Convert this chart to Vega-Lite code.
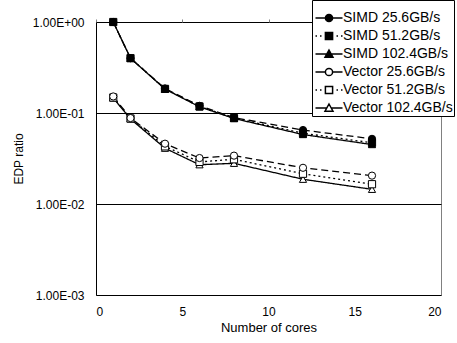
{
  "$schema": "https://vega.github.io/schema/vega-lite/v6.json",
  "width": 345,
  "height": 273,
  "autosize": "none",
  "padding": {"left": 96, "top": 22, "right": 16, "bottom": 48},
  "background": "white",
  "config": {
    "font": "Liberation Sans",
    "view": {"stroke": "#808080", "strokeWidth": 1},
    "axis": {"labelColor": "black", "titleColor": "black", "titleFontWeight": "normal"}
  },
  "data": {
    "values": [
      {"series": "SIMD 102.4GB/s", "cores": 1, "edp": 1.0},
      {"series": "SIMD 102.4GB/s", "cores": 2, "edp": 0.40},
      {"series": "SIMD 102.4GB/s", "cores": 4, "edp": 0.183},
      {"series": "SIMD 102.4GB/s", "cores": 6, "edp": 0.117},
      {"series": "SIMD 102.4GB/s", "cores": 8, "edp": 0.087},
      {"series": "SIMD 102.4GB/s", "cores": 12, "edp": 0.058},
      {"series": "SIMD 102.4GB/s", "cores": 16, "edp": 0.045},
      {"series": "SIMD 25.6GB/s", "cores": 1, "edp": 1.0},
      {"series": "SIMD 25.6GB/s", "cores": 2, "edp": 0.40},
      {"series": "SIMD 25.6GB/s", "cores": 4, "edp": 0.186},
      {"series": "SIMD 25.6GB/s", "cores": 6, "edp": 0.120},
      {"series": "SIMD 25.6GB/s", "cores": 8, "edp": 0.089},
      {"series": "SIMD 25.6GB/s", "cores": 12, "edp": 0.065},
      {"series": "SIMD 25.6GB/s", "cores": 16, "edp": 0.052},
      {"series": "SIMD 51.2GB/s", "cores": 1, "edp": 1.0},
      {"series": "SIMD 51.2GB/s", "cores": 2, "edp": 0.40},
      {"series": "SIMD 51.2GB/s", "cores": 4, "edp": 0.184},
      {"series": "SIMD 51.2GB/s", "cores": 6, "edp": 0.118},
      {"series": "SIMD 51.2GB/s", "cores": 8, "edp": 0.088},
      {"series": "SIMD 51.2GB/s", "cores": 12, "edp": 0.060},
      {"series": "SIMD 51.2GB/s", "cores": 16, "edp": 0.047},
      {"series": "Vector 102.4GB/s", "cores": 1, "edp": 0.146},
      {"series": "Vector 102.4GB/s", "cores": 2, "edp": 0.086},
      {"series": "Vector 102.4GB/s", "cores": 4, "edp": 0.041},
      {"series": "Vector 102.4GB/s", "cores": 6, "edp": 0.027},
      {"series": "Vector 102.4GB/s", "cores": 8, "edp": 0.028},
      {"series": "Vector 102.4GB/s", "cores": 12, "edp": 0.0187},
      {"series": "Vector 102.4GB/s", "cores": 16, "edp": 0.0145},
      {"series": "Vector 51.2GB/s", "cores": 1, "edp": 0.148},
      {"series": "Vector 51.2GB/s", "cores": 2, "edp": 0.087},
      {"series": "Vector 51.2GB/s", "cores": 4, "edp": 0.043},
      {"series": "Vector 51.2GB/s", "cores": 6, "edp": 0.029},
      {"series": "Vector 51.2GB/s", "cores": 8, "edp": 0.031},
      {"series": "Vector 51.2GB/s", "cores": 12, "edp": 0.0215},
      {"series": "Vector 51.2GB/s", "cores": 16, "edp": 0.0165},
      {"series": "Vector 25.6GB/s", "cores": 1, "edp": 0.152},
      {"series": "Vector 25.6GB/s", "cores": 2, "edp": 0.088},
      {"series": "Vector 25.6GB/s", "cores": 4, "edp": 0.046},
      {"series": "Vector 25.6GB/s", "cores": 6, "edp": 0.032},
      {"series": "Vector 25.6GB/s", "cores": 8, "edp": 0.034},
      {"series": "Vector 25.6GB/s", "cores": 12, "edp": 0.025},
      {"series": "Vector 25.6GB/s", "cores": 16, "edp": 0.0205}
    ]
  },
  "resolve": {
    "axis": {"x": "independent"},
    "scale": {"shape": "independent", "fill": "independent"},
    "legend": {"shape": "independent", "fill": "independent"}
  },
  "layer": [
    {
      "mark": {"type": "line", "color": "black", "strokeWidth": 1.3},
      "encoding": {
        "x": {
          "field": "cores", "type": "quantitative",
          "scale": {"domain": [0, 20], "nice": false},
          "axis": {"orient": "bottom", "values": [0, 5, 10, 15, 20], "ticks": false, "domain": false, "grid": false,
                   "labelFontSize": 12, "labelPadding": 11, "title": "Number of cores", "titleFontSize": 13, "titlePadding": 4}
        },
        "y": {
          "field": "edp", "type": "quantitative",
          "scale": {"type": "log", "domain": [0.001, 1], "nice": false},
          "axis": {"values": [1, 0.1, 0.01, 0.001], "ticks": false, "domainColor": "black", "grid": true,
                   "gridColor": "black", "gridOpacity": 1, "gridWidth": 1,
                   "labelFontSize": 12, "labelPadding": 12,
                   "labelExpr": "'1.00E' + (datum.value >= 1 ? '+00' : '-0' + round(-log(datum.value) / LN10))",
                   "title": "EDP ratio", "titleFontSize": 12, "titlePadding": 7}
        },
        "detail": {"field": "series"},
        "strokeDash": {
          "field": "series", "type": "nominal", "legend": null,
          "scale": {
            "domain": ["SIMD 25.6GB/s", "SIMD 51.2GB/s", "SIMD 102.4GB/s", "Vector 25.6GB/s", "Vector 51.2GB/s", "Vector 102.4GB/s"],
            "range": [[7, 4], [2, 3], [1, 0], [7, 4], [2, 3], [1, 0]]
          }
        }
      }
    },
    {
      "mark": {"type": "point", "filled": true, "stroke": "black", "strokeWidth": 1, "size": 52, "opacity": 1},
      "encoding": {
        "x": {
          "field": "cores", "type": "quantitative",
          "axis": {"orient": "top", "values": [0, 5, 10, 15, 20], "labels": false, "domain": false, "grid": false,
                   "ticks": true, "tickSize": 3, "tickColor": "#808080", "title": null}
        },
        "y": {"field": "edp", "type": "quantitative"},
        "shape": {
          "field": "series", "type": "nominal", "legend": null,
          "scale": {
            "domain": ["SIMD 25.6GB/s", "SIMD 51.2GB/s", "SIMD 102.4GB/s", "Vector 25.6GB/s", "Vector 51.2GB/s", "Vector 102.4GB/s"],
            "range": ["circle", "square", "triangle-up", "circle", "square", "triangle-up"]
          }
        },
        "fill": {
          "field": "series", "type": "nominal", "legend": null,
          "scale": {
            "domain": ["SIMD 25.6GB/s", "SIMD 51.2GB/s", "SIMD 102.4GB/s", "Vector 25.6GB/s", "Vector 51.2GB/s", "Vector 102.4GB/s"],
            "range": ["black", "black", "black", "white", "white", "white"]
          }
        }
      }
    },
    {
      "mark": {"type": "point", "filled": false, "stroke": "black", "strokeWidth": 1.5, "size": 0, "opacity": 1},
      "encoding": {
        "x": {"field": "cores", "type": "quantitative", "axis": null},
        "y": {"field": "edp", "type": "quantitative"},
        "shape": {
          "field": "series", "type": "nominal",
          "scale": {
            "domain": ["SIMD 25.6GB/s", "SIMD 51.2GB/s", "SIMD 102.4GB/s", "Vector 25.6GB/s", "Vector 51.2GB/s", "Vector 102.4GB/s"],
            "range": [
              "M-2.7,0H-0.72M0.72,0H2.7M-0.72,0A0.72,0.72,0,1,1,0.72,0A0.72,0.72,0,1,1,-0.72,0Z",
              "M-2.7,0H-2.4M-1.8,0H-1.5M1.5,0H1.8M2.4,0H2.7M-0.72,-0.72H0.72V0.72H-0.72Z",
              "M-2.7,0H-0.44M0.44,0H2.7M0,-0.8L0.8,0.64H-0.8Z",
              "M-2.7,0H-0.72M0.72,0H2.7M-0.72,0A0.72,0.72,0,1,1,0.72,0A0.72,0.72,0,1,1,-0.72,0Z",
              "M-2.7,0H-2.4M-1.8,0H-1.5M1.5,0H1.8M2.4,0H2.7M-0.72,-0.72H0.72V0.72H-0.72Z",
              "M-2.7,0H-0.44M0.44,0H2.7M0,-0.8L0.8,0.64H-0.8Z"
            ]
          },
          "legend": {
            "orient": "none", "legendX": 216, "legendY": -22, "title": " ", "titleFontSize": 4, "titlePadding": 6,
            "symbolSize": 100, "symbolOpacity": 1, "symbolStrokeColor": "black", "symbolStrokeWidth": 1.5,
            "symbolOffset": 9,
            "labelFontSize": 14, "labelColor": "black", "labelOffset": 7, "rowPadding": 4,
            "padding": 1, "strokeColor": "black", "fillColor": "white", "labelLimit": 200,
            "encode": {"symbols": {"update": {"stroke": {"value": "black"}, "strokeWidth": {"value": 1.5}, "strokeOpacity": {"value": 1}}}}
          }
        },
        "fill": {
          "field": "series", "type": "nominal",
          "scale": {
            "domain": ["SIMD 25.6GB/s", "SIMD 51.2GB/s", "SIMD 102.4GB/s", "Vector 25.6GB/s", "Vector 51.2GB/s", "Vector 102.4GB/s"],
            "range": ["black", "black", "black", "white", "white", "white"]
          },
          "legend": {
            "orient": "none", "legendX": 216, "legendY": -22, "title": " ", "titleFontSize": 4, "titlePadding": 6,
            "symbolSize": 100, "symbolOpacity": 1, "symbolStrokeColor": "black", "symbolStrokeWidth": 1.5,
            "symbolOffset": 9,
            "labelFontSize": 14, "labelColor": "black", "labelOffset": 7, "rowPadding": 4,
            "padding": 1, "strokeColor": "black", "fillColor": "white", "labelLimit": 200,
            "encode": {"symbols": {"update": {"stroke": {"value": "black"}, "strokeWidth": {"value": 1.5}, "strokeOpacity": {"value": 1}}}}
          }
        }
      }
    }
  ]
}
